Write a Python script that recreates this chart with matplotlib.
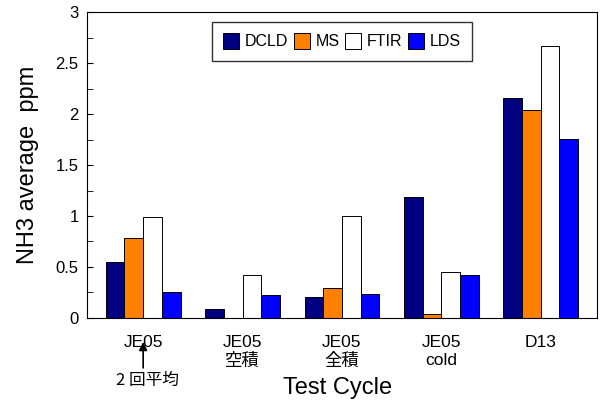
import numpy as np
import matplotlib.pyplot as plt

# --------------------------------------------
# Data
# --------------------------------------------
cycles = ["JE05", "JE05\n空積", "JE05\n全積", "JE05\ncold", "D13"]
dcld = [0.55, 0.09, 0.21, 1.19, 2.16]
ms = [0.78, 0.0, 0.29, 0.04, 2.04]
ftir = [0.99, 0.42, 1.00, 0.45, 2.67]
lds = [0.25, 0.23, 0.235, 0.42, 1.755]

series = ["DCLD", "MS", "FTIR", "LDS"]
colors = ["#000080", "#FF8000", "#FFFFFF", "#0000FF"]

plt.rcParams["font.family"] = ["Liberation Sans", "Noto Sans CJK JP"]

# --------------------------------------------
# Plot
# --------------------------------------------
fig = plt.figure(figsize=(6.02, 4.03), dpi=100)
ax = fig.add_axes([0.1445, 0.211, 0.847, 0.759])

x = np.arange(len(cycles))
w = 0.188
for i, (vals, c, name) in enumerate(zip([dcld, ms, ftir, lds], colors, series)):
    ax.bar(x + (i - 1.5) * w, vals, width=w, color=c, edgecolor="black",
           linewidth=0.7, label=name)

ax.set_xlim(-0.565, 4.565)
ax.set_ylim(0, 3)
ax.set_yticks(np.arange(0, 3.01, 0.5))
ax.set_yticklabels(["0", "0.5", "1", "1.5", "2", "2.5", "3"])
ax.set_yticks(np.arange(0, 3.01, 0.25), minor=True)
ax.tick_params(axis="y", which="both", direction="in", length=4, labelsize=12, pad=6)
ax.set_xticks(x)
ax.set_xticklabels(cycles, fontsize=12.5, linespacing=1.25)
ax.tick_params(axis="x", length=0, pad=12)

ax.set_ylabel("NH3 average  ppm", fontsize=17, labelpad=12)
fig.text(0.56, 1 - 388 / 403, "Test Cycle", fontsize=17, ha="center", va="center")

leg = ax.legend(loc="upper center", bbox_to_anchor=(0.5, 0.967), ncol=4,
                frameon=True, fancybox=False, edgecolor="black",
                handlelength=1.0, handleheight=1.1, handletextpad=0.35,
                columnspacing=0.35, borderpad=0.7, borderaxespad=0,
                prop={"size": 11.5})
leg.get_frame().set_linewidth(1.0)

# annotation under the first group
ax.annotate("", xy=(0, -0.235), xytext=(0, -0.49),
            annotation_clip=False,
            arrowprops=dict(arrowstyle="-|>", color="black", lw=1.2,
                            mutation_scale=12, shrinkA=0, shrinkB=0))
ax.text(0.04, -0.61, "2 回平均", ha="center", va="center", fontsize=12,
        family=["Noto Sans CJK JP", "DejaVu Sans"])

plt.savefig("out.png", dpi=100)
